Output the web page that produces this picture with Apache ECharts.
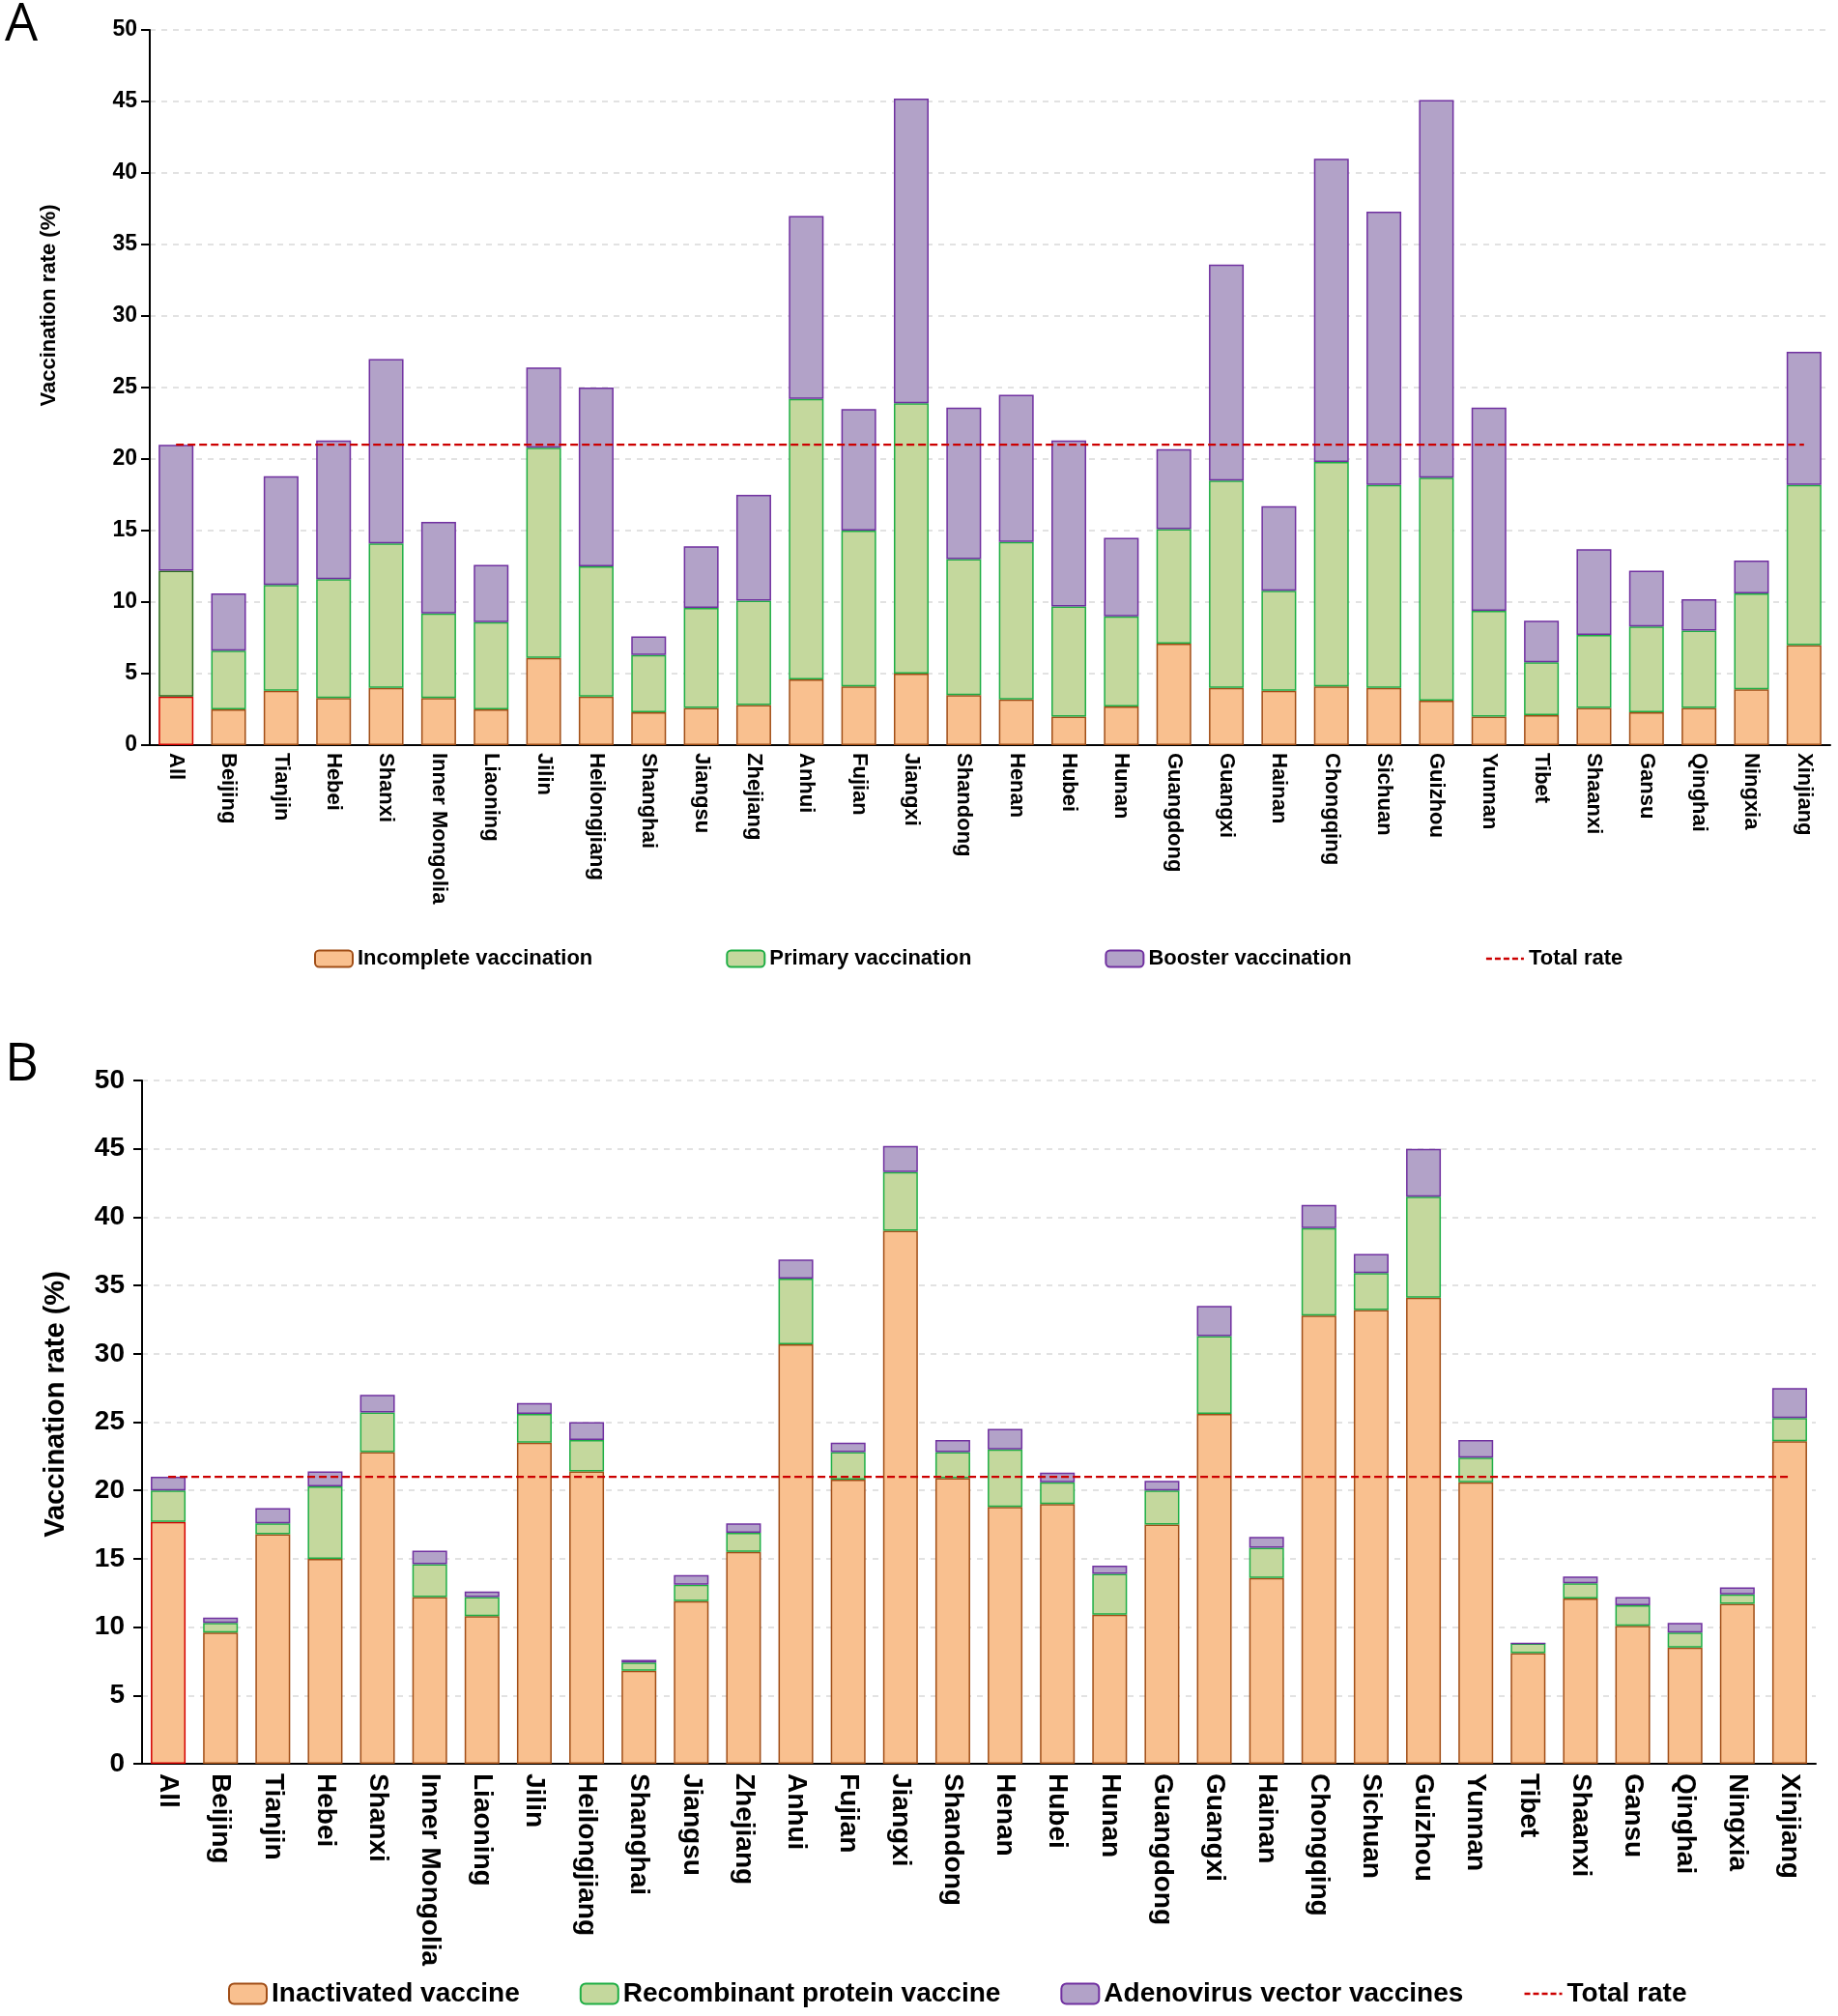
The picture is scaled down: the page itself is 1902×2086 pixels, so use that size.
<!DOCTYPE html>
<html>
<head>
<meta charset="utf-8">
<title>Vaccination rate by province</title>
<script src="https://cdn.jsdelivr.net/npm/echarts@6/dist/echarts.min.js"></script>
<style>
  html, body { margin: 0; padding: 0; background: #fff; }
  #chart { width: 1902px; height: 2086px; }
</style>
</head>
<body>
<div id="chart"></div>
<script>
var provinces = ['All', 'Beijing', 'Tianjin', 'Hebei', 'Shanxi', 'Inner Mongolia', 'Liaoning', 'Jilin',
  'Heilongjiang', 'Shanghai', 'Jiangsu', 'Zhejiang', 'Anhui', 'Fujian', 'Jiangxi', 'Shandong', 'Henan',
  'Hubei', 'Hunan', 'Guangdong', 'Guangxi', 'Hainan', 'Chongqing', 'Sichuan', 'Guizhou', 'Yunnan',
  'Tibet', 'Shaanxi', 'Gansu', 'Qinghai', 'Ningxia', 'Xinjiang'];

// panel A: by dose status (segment values, %)
var incomplete = [3.4, 2.5, 3.8, 3.3, 4.0, 3.3, 2.5, 6.1, 3.4, 2.3, 2.6, 2.8, 4.6, 4.1, 5.0, 3.5, 3.2,
  2.0, 2.7, 7.1, 4.0, 3.8, 4.1, 4.0, 3.1, 2.0, 2.1, 2.6, 2.3, 2.6, 3.9, 7.0];
var primary = [8.8, 4.1, 7.4, 8.3, 10.1, 5.9, 6.1, 14.7, 9.1, 4.0, 7.0, 7.3, 19.6, 10.9, 18.9, 9.5, 11.0,
  7.7, 6.3, 8.0, 14.5, 7.0, 15.7, 14.2, 15.6, 7.4, 3.7, 5.1, 6.0, 5.4, 6.7, 11.2];
var booster = [8.8, 4.0, 7.6, 9.7, 12.9, 6.4, 4.0, 5.6, 12.5, 1.3, 4.3, 7.4, 12.8, 8.5, 21.3, 10.6, 10.3,
  11.6, 5.5, 5.6, 15.1, 5.9, 21.2, 19.1, 26.4, 14.2, 2.9, 6.0, 3.9, 2.2, 2.3, 9.3];

// panel B: by vaccine type (segment values, %)
var inactivated = [17.7, 9.6, 16.8, 15.0, 22.8, 12.2, 10.8, 23.5, 21.4, 6.8, 11.9, 15.5, 30.7, 20.8, 39.0,
  20.9, 18.8, 19.0, 10.9, 17.5, 25.6, 13.6, 32.8, 33.2, 34.1, 20.6, 8.1, 12.1, 10.1, 8.5, 11.7, 23.6];
var recombinant = [2.3, 0.7, 0.8, 5.3, 2.9, 2.4, 1.4, 2.1, 2.3, 0.6, 1.2, 1.4, 4.8, 2.0, 4.3,
  1.9, 4.2, 1.6, 3.0, 2.5, 5.7, 2.2, 6.4, 2.7, 7.4, 1.8, 0.7, 1.1, 1.5, 1.1, 0.7, 1.7];
var adenovirus = [1.0, 0.4, 1.1, 1.1, 1.3, 1.0, 0.4, 0.8, 1.3, 0.2, 0.7, 0.7, 1.4, 0.7, 1.9,
  0.9, 1.5, 0.7, 0.6, 0.7, 2.2, 0.8, 1.7, 1.4, 3.5, 1.3, 0, 0.5, 0.6, 0.7, 0.5, 2.2];

var totalRate = 21.0;
var yTicks = { min: 0, max: 50, interval: 5 };

var FONT = "'Liberation Sans', Arial, sans-serif";
var ORANGE = '#f9c08f', ORANGE_B = '#a14e17';
var GREEN = '#c4d89d', GREEN_B = '#1fae45';
var PURPLE = '#b2a2c8', PURPLE_B = '#7030a0';
var RED = '#cc0000';

var chart = echarts.init(document.getElementById('chart'));

function bars(values, allBorder) {
  return values.map(function (v, i) {
    if (i === 0 && allBorder) {
      return { value: v, itemStyle: { borderColor: allBorder } };
    }
    return v;
  });
}

function yAxis(gridIndex, fontSize, margin) {
  return {
    type: 'value', gridIndex: gridIndex,
    min: yTicks.min, max: yTicks.max, interval: yTicks.interval,
    axisLine: { show: true, lineStyle: { color: '#000', width: 2 } },
    axisTick: { show: true, length: 9, lineStyle: { color: '#000', width: 2 } },
    axisLabel: { color: '#000', fontFamily: FONT, fontWeight: 'bold', fontSize: fontSize, margin: margin },
    splitLine: { show: true, lineStyle: { color: '#d9d9d9', width: 1.5, type: [6, 6] } }
  };
}

function xAxis(gridIndex, fontSize, margin) {
  return {
    type: 'category', gridIndex: gridIndex, data: provinces,
    axisLine: { show: true, lineStyle: { color: '#000', width: 2 } },
    axisTick: { show: false },
    axisLabel: { rotate: -90, interval: 0, color: '#000', fontFamily: FONT, fontWeight: 'bold',
      fontSize: fontSize, margin: margin }
  };
}

function barSeries(name, idx, stack, values, fill, border, allBorder) {
  return {
    name: name, type: 'bar', xAxisIndex: idx, yAxisIndex: idx, stack: stack, barWidth: 36,
    itemStyle: { color: fill, borderColor: border, borderWidth: 1.5 },
    data: bars(values, allBorder)
  };
}

function lineSeries(idx) {
  return {
    name: 'Total rate', type: 'line', xAxisIndex: idx, yAxisIndex: idx,
    symbol: 'none', z: 5,
    lineStyle: { color: RED, width: 2.2, type: [8, 4] },
    itemStyle: { color: RED },
    data: provinces.map(function () { return totalRate; })
  };
}

// legend entry for the dashed line: hide the default circle marker
var totalLegend = {
  name: 'Total rate',
  itemStyle: { color: 'rgba(0,0,0,0)', borderColor: 'rgba(0,0,0,0)', borderWidth: 0 },
  lineStyle: { color: RED, width: 2.5, type: [6, 3] }
};

chart.setOption({
  animation: false,
  backgroundColor: '#fff',
  grid: [
    { left: 155, top: 31, width: 1739, height: 740, containLabel: false },
    { left: 147, top: 1118, width: 1732, height: 707, containLabel: false }
  ],
  xAxis: [xAxis(0, 22, 8), xAxis(1, 28, 10)],
  yAxis: [yAxis(0, 23, 13), yAxis(1, 28, 18)],
  legend: [
    {
      left: 320, top: 976, itemWidth: 39, itemHeight: 17, itemGap: 138,
      textStyle: { color: '#000', fontFamily: FONT, fontWeight: 'bold', fontSize: 22 },
      data: ['Incomplete vaccination', 'Primary vaccination', 'Booster vaccination', totalLegend]
    },
    {
      left: 231, top: 2044, itemWidth: 39, itemHeight: 21, itemGap: 62,
      textStyle: { color: '#000', fontFamily: FONT, fontWeight: 'bold', fontSize: 28 },
      data: ['Inactivated vaccine', 'Recombinant protein vaccine', 'Adenovirus vector vaccines', totalLegend]
    }
  ],
  graphic: [
    { type: 'text', left: 5, top: 0, style: { text: 'A', fontFamily: "'Open Sans', sans-serif", fontSize: 54, fill: '#000' } },
    { type: 'text', left: 5, top: 1076, style: { text: 'B', fontFamily: "'Open Sans', sans-serif", fontSize: 54, fill: '#000' } },
    { type: 'text', x: 51, y: 316, rotation: Math.PI / 2,
      style: { text: 'Vaccination rate (%)', align: 'center', verticalAlign: 'middle',
        fontFamily: FONT, fontWeight: 'bold', fontSize: 22, fill: '#000' } },
    { type: 'text', x: 58, y: 1453, rotation: Math.PI / 2,
      style: { text: 'Vaccination rate (%)', align: 'center', verticalAlign: 'middle',
        fontFamily: FONT, fontWeight: 'bold', fontSize: 29, fill: '#000' } }
  ],
  series: [
    barSeries('Incomplete vaccination', 0, 'a', incomplete, ORANGE, ORANGE_B, '#d40000'),
    barSeries('Primary vaccination', 0, 'a', primary, GREEN, GREEN_B, '#2b6a1f'),
    barSeries('Booster vaccination', 0, 'a', booster, PURPLE, PURPLE_B),
    lineSeries(0),
    barSeries('Inactivated vaccine', 1, 'b', inactivated, ORANGE, ORANGE_B, '#d40000'),
    barSeries('Recombinant protein vaccine', 1, 'b', recombinant, GREEN, GREEN_B),
    barSeries('Adenovirus vector vaccines', 1, 'b', adenovirus, PURPLE, PURPLE_B),
    lineSeries(1)
  ]
});
</script>
</body>
</html>
